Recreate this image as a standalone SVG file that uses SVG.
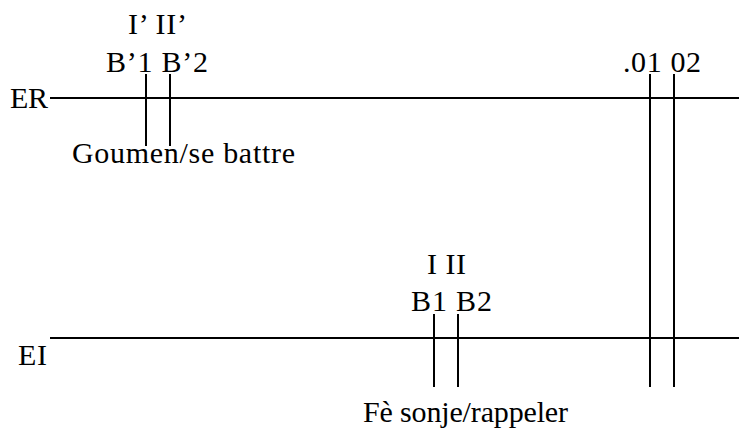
<svg xmlns="http://www.w3.org/2000/svg" width="739" height="428" viewBox="0 0 739 428">
<style>
text{font-family:"Liberation Serif","Times New Roman",serif;font-size:30px;fill:#000}
.ln{stroke:#000;stroke-width:2;fill:none}
</style>
<rect width="739" height="428" fill="#fff"/>
<g id="connectors">
<line class="ln" x1="50" y1="98" x2="739" y2="98"/>
<line class="ln" x1="50" y1="338" x2="739" y2="338"/>
<line class="ln" x1="146" y1="74" x2="146" y2="146"/>
<line class="ln" x1="170" y1="74" x2="170" y2="146"/>
<line class="ln" x1="434" y1="314" x2="434" y2="387"/>
<line class="ln" x1="458" y1="314" x2="458" y2="387"/>
<line class="ln" x1="650" y1="74" x2="650" y2="387"/>
<line class="ln" x1="674" y1="74" x2="674" y2="387"/>
</g>
<g id="ER"><text x="10" y="108" textLength="38">ER</text></g>
<g id="EI"><text x="18" y="365" textLength="29">EI</text></g>
<g id="Bprime">
<text x="128" y="34" textLength="59">I’ II’</text>
<text x="106" y="72" textLength="102">B’1 B’2</text>
<text x="72" y="163" textLength="223">Goumen/se battre</text>
</g>
<g id="B">
<text x="427" y="274" textLength="39">I II</text>
<text x="411" y="311" textLength="81">B1 B2</text>
<text x="363" y="422" textLength="205">Fè sonje/rappeler</text>
</g>
<g id="O"><text x="623" y="72" textLength="78">.01 02</text></g>
</svg>
